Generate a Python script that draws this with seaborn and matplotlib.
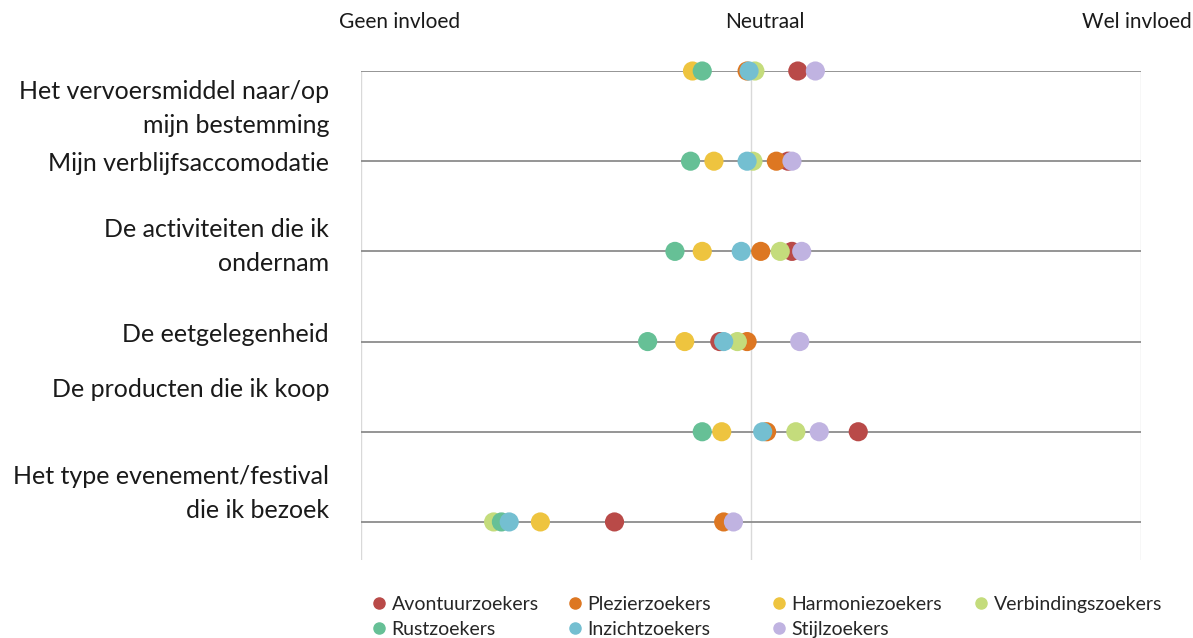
import pandas as pd
import matplotlib.pyplot as plt
import seaborn as sns

# Aspects (top to bottom) and score per visitor type (1 = geen invloed, 3 = neutraal, 5 = wel invloed)
aspects = [
    'Het vervoersmiddel naar/op mijn bestemming',
    'Mijn verblijfsaccomodatie',
    'De activiteiten die ik ondernam',
    'De eetgelegenheid',
    'De producten die ik koop',
    'Het type evenement/festival die ik bezoek',
]
rows = [6, 5, 4, 3, 2, 1]

groups = ['Avontuurzoekers', 'Plezierzoekers', 'Harmoniezoekers', 'Verbindingszoekers',
          'Rustzoekers', 'Inzichtzoekers', 'Stijlzoekers']
colors = ['#B94A48', '#DD7722', '#EEC43F', '#C4DC7C', '#66C096', '#74BFD1', '#C0B3E1']

avontuur = [3.24, 3.19, 3.21, 2.84, 3.55, 2.30]
plezier = [2.98, 3.13, 3.05, 2.98, 3.08, 2.86]
harmonie = [2.70, 2.81, 2.75, 2.66, 2.85, 1.92]
verbinding = [3.02, 3.01, 3.15, 2.93, 3.23, 1.68]
rust = [2.75, 2.69, 2.61, 2.47, 2.75, 1.72]
inzicht = [2.99, 2.98, 2.95, 2.86, 3.06, 1.76]
stijl = [3.33, 3.21, 3.26, 3.25, 3.35, 2.91]

# Left-hand labels as they sit in the original (not aligned with the rows)
label_text = ['Het vervoersmiddel naar/op\nmijn bestemming', 'Mijn verblijfsaccomodatie',
              'De activiteiten die ik\nondernam', 'De eetgelegenheid',
              'De producten die ik koop', 'Het type evenement/festival\ndie ik bezoek']
label_pos = [5.67, 5.0, 4.14, 3.1, 2.49, 1.40]

scores = [avontuur, plezier, harmonie, verbinding, rust, inzicht, stijl]
records = []
for g, vals in zip(groups, scores):
    for r, v in zip(rows, vals):
        records.append({'groep': g, 'rij': r, 'score': v})
df = pd.DataFrame(records)

sns.set_style('white')
plt.rcParams['font.family'] = ['Lato', 'DejaVu Sans']

fig = plt.figure(figsize=(11.93, 6.38), dpi=100)
ax = fig.add_axes([361 / 1193, 78 / 638, 780 / 1193, 489 / 638])

for x in [1, 3, 5]:
    ax.axvline(x, color='#D9D9D9', lw=1, zorder=0)
ax.hlines(rows, 1, 5, color='#8C8C8C', lw=1.3, zorder=1)

sns.scatterplot(data=df, x='score', y='rij', hue='groep', hue_order=groups,
                palette=colors, s=190, linewidth=0, alpha=1, ax=ax,
                clip_on=False, zorder=3, legend=False)

ax.set_xlim(1, 5)
ax.set_ylim(0.578, 6)
ax.set_xticks([])
ax.set_yticks(label_pos)
ax.set_yticklabels(label_text, fontsize=18, linespacing=1.6, color='#1a1a1a')
ax.tick_params(axis='y', length=0, pad=23)
ax.set_xlabel('')
ax.set_ylabel('')
for sp in ax.spines.values():
    sp.set_visible(False)

for x, t in zip([1.2, 3.07, 4.98], ['Geen invloed', 'Neutraal', 'Wel invloed']):
    ax.text(x, 1.1, t, transform=ax.get_xaxis_transform(), ha='center', va='center',
            fontsize=15, color='#1a1a1a')

# Legend: one small legend per column so the columns sit where Excel put them
handles = [plt.Line2D([], [], marker='o', ls='', color=c, markersize=8) for c in colors]
columns = [[0, 4], [1, 5], [2, 6], [3]]
col_left = [373, 569, 773, 975]
for idx, left in zip(columns, col_left):
    fig.legend([handles[i] for i in idx], [groups[i] for i in idx],
               loc='upper left', bbox_to_anchor=(left / 1193, 1 - 596 / 638),
               frameon=False, fontsize=14, handlelength=0.6, handletextpad=0.35,
               labelspacing=0.42, borderpad=0, borderaxespad=0)

fig.savefig('out.png', dpi=100)
